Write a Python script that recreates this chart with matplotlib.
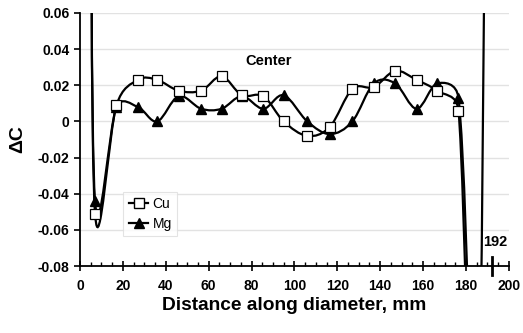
import numpy as np
import matplotlib
matplotlib.use('Agg')
import matplotlib.pyplot as plt
from matplotlib.path import Path
from matplotlib.patches import PathPatch
from matplotlib.lines import Line2D
from matplotlib.ticker import MultipleLocator, FuncFormatter

plt.rcParams['font.family'] = ['Liberation Sans', 'DejaVu Sans']

# measured points (mm, delta C)
cu_x = [7, 17, 27, 36, 46, 56.5, 66, 75.5, 85.5, 95, 106, 116.5, 127, 137, 147, 157, 166.5, 176.5]
cu_y = [-0.051, 0.009, 0.023, 0.023, 0.017, 0.017, 0.025, 0.0145, 0.014, 0.0, -0.008, -0.003, 0.018, 0.019, 0.028, 0.023, 0.017, 0.006]
mg_x = [7, 17, 27, 36, 46, 56.5, 66, 75.5, 85.5, 95, 106, 116.5, 127, 137, 147, 157, 166.5, 176.5]
mg_y = [-0.044, 0.008, 0.008, 0.0, 0.014, 0.007, 0.007, 0.014, 0.007, 0.0145, 0.0, -0.007, 0.0, 0.021, 0.021, 0.007, 0.021, 0.013]
# edge values, off the plotted range
cu_edge_x = [[5.0], [185, 190]]
cu_edge_y = [[0.2], [-0.22, 0.27]]
mg_edge_x = [[5.0], [182]]
mg_edge_y = [[0.2], [-0.13]]

edge_mm = 192


def smooth_path(ax, x, y, clamp=0.6):
    # Catmull-Rom style curve in display space, control arms limited by segment length
    pts = ax.transData.transform(np.column_stack([x, y]))
    n = len(pts)
    c_in = pts.copy()
    c_out = pts.copy()
    for i in range(n):
        p0 = pts[i - 1] if i > 0 else pts[i]
        p2 = pts[i + 1] if i < n - 1 else pts[i]
        arm = (p2 - p0) / 6
        a = np.hypot(*arm)
        if a == 0:
            continue
        lp = np.hypot(*(pts[i] - p0))
        ln = np.hypot(*(p2 - pts[i]))
        c_out[i] = pts[i] + arm * min(1, clamp * ln / a)
        c_in[i] = pts[i] - arm * min(1, clamp * lp / a)
    verts = [pts[0]]
    codes = [Path.MOVETO]
    for i in range(n - 1):
        verts += [c_out[i], c_in[i + 1], pts[i + 1]]
        codes += [Path.CURVE4] * 3
    verts = ax.transData.inverted().transform(np.array(verts))
    return Path(verts, codes)


def main():
    fig = plt.figure(figsize=(5.23, 3.33), dpi=100)
    ax = fig.add_axes([0.153, 0.201, 0.82, 0.76])
    ax.set_xlim(0, 200)
    ax.set_ylim(-0.08, 0.06)

    for xs, ys, ex, ey in [(cu_x, cu_y, cu_edge_x, cu_edge_y), (mg_x, mg_y, mg_edge_x, mg_edge_y)]:
        px = ex[0] + xs + ex[1]
        py = ey[0] + ys + ey[1]
        ax.add_patch(PathPatch(smooth_path(ax, px, py), facecolor='none', edgecolor='black', lw=1.6, zorder=3))

    ax.plot(cu_x, cu_y, 's', ms=6.5, mfc='white', mec='black', mew=0.9, ls='none', zorder=5)
    ax.plot(mg_x, mg_y, '^', ms=6.5, mfc='black', mec='black', ls='none', zorder=4)

    ax.xaxis.set_major_locator(MultipleLocator(20))
    ax.xaxis.set_minor_locator(MultipleLocator(5))
    ax.yaxis.set_major_locator(MultipleLocator(0.02))
    ax.yaxis.set_major_formatter(FuncFormatter(lambda v, p: '0' if abs(v) < 1e-9 else f'{v:.2f}'))
    ax.yaxis.grid(True, color='#e2e2e2', lw=1)
    ax.set_axisbelow(True)

    for s in ['top', 'right']:
        ax.spines[s].set_visible(False)
    for s in ['left', 'bottom']:
        ax.spines[s].set_linewidth(1.3)

    ax.tick_params(axis='x', which='major', direction='inout', length=7, width=1.2, labelsize=10, pad=6)
    ax.tick_params(axis='x', which='minor', direction='in', length=3, width=1)
    ax.tick_params(axis='y', which='major', direction='out', length=4, width=1.2, labelsize=10)
    for lbl in ax.get_xticklabels() + ax.get_yticklabels():
        lbl.set_fontweight('bold')

    # edge marker at 192 mm
    ax.plot([edge_mm, edge_mm], [-0.085, -0.075], color='black', lw=2, clip_on=False, zorder=6)
    ax.text(edge_mm + 1.5, -0.0668, str(edge_mm), fontsize=10.5, fontweight='bold', ha='center', va='center')
    ax.text(88, 0.0333, 'Center', fontsize=10.5, fontweight='bold', ha='center', va='center')

    ax.set_xlabel('Distance along diameter, mm', fontsize=13.8, fontweight='bold', labelpad=3)
    ax.set_ylabel('ΔC', fontsize=14, fontweight='bold', labelpad=8)

    handles = [Line2D([], [], color='black', lw=1.6, marker='s', ms=6.5, mfc='white', mec='black', label='Cu'),
               Line2D([], [], color='black', lw=1.6, marker='^', ms=6.5, mfc='black', label='Mg')]
    leg = ax.legend(handles=handles, loc='lower left', bbox_to_anchor=(0.085, 0.09), fontsize=10,
                    frameon=True, fancybox=False, edgecolor='#dddddd', handlelength=1.4,
                    handletextpad=0.3, borderpad=0.4, labelspacing=0.4)
    leg.get_frame().set_linewidth(0.8)

    fig.savefig('out.png', dpi=100)


if __name__ == '__main__':
    main()
